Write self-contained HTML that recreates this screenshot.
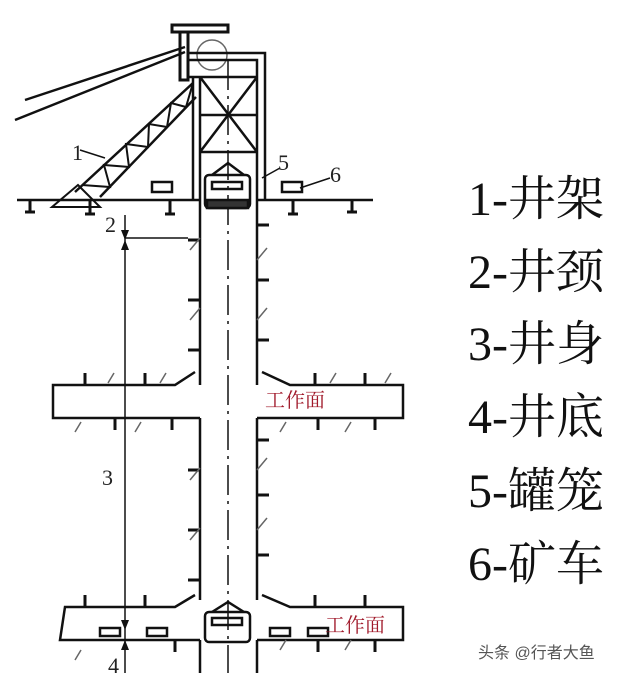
<!DOCTYPE html>
<html><head><meta charset="utf-8"><style>
body{margin:0;background:#fff;width:640px;height:673px;overflow:hidden}
svg{position:absolute;left:0;top:0}
.l{font-family:"Liberation Serif","Noto Serif CJK SC",serif;font-size:48px;fill:#111}
.r{font-family:"Liberation Serif","Noto Serif CJK SC",serif;font-size:20px;fill:#a0192a}
.n{font-family:"Liberation Serif",serif;font-size:22px;fill:#222}
</style></head><body>
<svg width="640" height="673" viewBox="0 0 640 673" stroke="#111" fill="none" stroke-width="2.5">
<line x1="17" y1="200" x2="200" y2="200"/><line x1="257" y1="200" x2="373" y2="200"/>
<g stroke-width="3">
<path d="M30 200v12M90 200v14M170 200v14M293 200v14M352 200v12M25 212h10M85 214h10M165 214h10M288 214h10M347 212h10"/>
</g>
<rect x="172" y="25" width="56" height="7" stroke-width="3"/>
<rect x="180" y="32" width="8" height="48" stroke-width="3"/>
<circle cx="212" cy="55" r="15" stroke-width="1.5" stroke="#666"/>
<path d="M188 53H265V200M188 60H257V200M188 77H257M193 77V200M200 77V200M200 115H257M200 152H257M200 77L257 152M257 77L200 152"/>
<line x1="228" y1="60" x2="228" y2="673" stroke-width="1.5" stroke-dasharray="30 6 3 6"/>
<path d="M185 47L25 100M185 52L15 120"/>
<path d="M75 192L193 83M100 197L196 97"/>
<path d="M82 185L110 187L104 165L129 167L126 144L148 147L149 124L167 127L171 103L186 107L193 83" stroke-width="2"/>
<path d="M52 207L78 185L100 207Z" stroke-width="2"/>
<rect x="152" y="182" width="20" height="10"/><rect x="282" y="182" width="20" height="10"/>
<path d="M212 175L228 163L244 175" />
<rect x="205" y="175" width="45" height="33" rx="4"/><rect x="212" y="182" width="30" height="7"/>
<rect x="207" y="200" width="41" height="8" fill="#333"/>
<path d="M200 200V385M257 200V385M200 418V600M257 418V600M200 640V673M257 640V673"/>
<path d="M195 372L175 385H53V418H200M262 372L290 385H403V418H257"/>
<path d="M195 595L175 607H65L60 640H200M262 595L290 607H403V640H257"/>
<g stroke-width="3">
<path d="M85 385v-12M145 385v-12M315 385v-12M365 385v-12M115 418v12M172 418v12M318 418v12M375 418v12M85 607v-12M145 607v-12M315 607v-12M365 607v-12M175 640v12M318 640v12M375 640v12"/>
<path d="M200 240h-12M200 300h-12M200 350h-12M200 470h-12M200 530h-12M200 580h-12M257 225h12M257 280h12M257 340h12M257 440h12M257 495h12M257 555h12"/>
</g>
<g stroke-width="1.5" stroke="#666"><path d="M190 250l10-12M190 320l10-12M190 480l10-12M190 540l10-12M257 260l10-12M257 320l10-12M257 470l10-12M257 530l10-12M75 432l6-10M135 432l6-10M280 432l6-10M345 432l6-10M280 650l6-10M345 650l6-10M75 660l6-10M108 383l6-10M160 383l6-10M330 383l6-10M385 383l6-10"/></g>
<rect x="205" y="612" width="45" height="30" rx="4"/><rect x="212" y="618" width="30" height="7"/><path d="M212 612L228 602L244 612"/>
<rect x="100" y="628" width="20" height="8"/><rect x="147" y="628" width="20" height="8"/><rect x="270" y="628" width="20" height="8"/><rect x="308" y="628" width="20" height="8"/>
<path d="M125 215V673M125 238H188" stroke-width="1.5"/>
<path d="M121 230L125 240L129 230ZM121 250L125 240L129 250ZM121 620L125 630L129 620ZM121 650L125 640L129 650Z" fill="#111" stroke="none"/>
<path d="M80 150L105 158M262 178L280 168M300 188L330 178" stroke-width="1.5"/>
<g stroke="none">
<text class="n" x="72" y="160">1</text><text class="n" x="105" y="232">2</text><text class="n" x="102" y="485">3</text>
<text class="n" x="278" y="170">5</text><text class="n" x="330" y="182">6</text><text class="n" x="108" y="673">4</text>
<text class="r" x="265" y="407">工作面</text><text class="r" x="325" y="632">工作面</text>
<text class="l" x="468" y="215">1-井架</text><text class="l" x="468" y="288">2-井颈</text>
<text class="l" x="468" y="360">3-井身</text><text class="l" x="468" y="433">4-井底</text>
<text class="l" x="468" y="507">5-罐笼</text><text class="l" x="468" y="580">6-矿车</text>
<text x="478" y="658" style="font-family:'Liberation Sans','Noto Sans CJK SC',sans-serif;font-size:16px;fill:#555">头条 @行者大鱼</text>
</g>
</svg>
</body></html>
